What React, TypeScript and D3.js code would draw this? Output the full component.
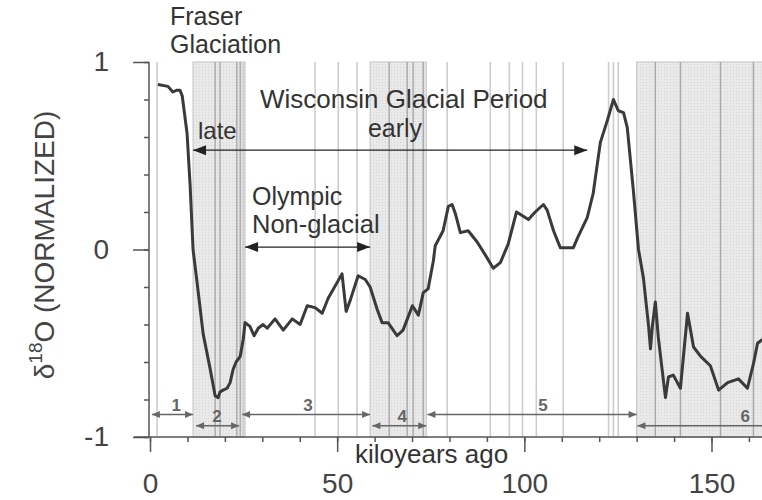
import React, { useEffect, useRef } from 'react';
import * as d3 from 'd3';

// d18O curve: [kiloyears ago, normalized value]
const curveKyr = [
  2.1, 4.8, 6.1, 7.2, 8.0, 8.6, 9.9, 10.7, 11.5, 12.6, 14.2, 16.0, 17.4, 18.2, 18.7, 19.5, 20.6, 21.4, 22.2, 23.0,
  24.1, 24.9, 25.4, 26.7, 27.8, 28.9, 30.2, 31.3, 33.4, 35.6, 38.0, 40.1, 42.0, 44.1, 46.0, 47.6, 51.3, 52.4, 53.5,
  55.6, 57.5, 58.8, 60.7, 62.0, 63.6, 66.0, 67.6, 70.1, 71.7, 73.0, 74.3, 75.7, 76.2, 78.3, 79.7, 80.7, 81.6, 82.9,
  85.0, 87.4, 89.6, 91.7, 93.6, 95.7, 97.9, 99.5, 101.1, 102.9, 105.1, 106.1, 107.8, 109.6, 113.1, 114.4, 116.8,
  118.4, 120.3, 122.2, 123.8, 125.1, 126.5, 127.5, 129.1, 130.5, 131.8, 133.2, 133.7, 134.2, 135.0, 135.8, 137.7,
  138.5, 139.8, 141.7, 143.6, 145.2, 147.1, 149.7, 151.9, 154.3, 157.2, 159.6, 161.2, 162.3, 163.6,
];
const curveValues = [
  0.88, 0.87, 0.84, 0.85, 0.85, 0.82, 0.62, 0.35, 0.0, -0.18, -0.45, -0.63, -0.78, -0.79, -0.76, -0.75, -0.74, -0.71,
  -0.64, -0.6, -0.57, -0.48, -0.39, -0.41, -0.46, -0.42, -0.4, -0.42, -0.37, -0.43, -0.37, -0.4, -0.3, -0.31, -0.34,
  -0.26, -0.13, -0.33, -0.27, -0.14, -0.16, -0.2, -0.32, -0.39, -0.39, -0.46, -0.43, -0.3, -0.35, -0.23, -0.21, -0.06,
  0.02, 0.1, 0.23, 0.24, 0.19, 0.09, 0.1, 0.04, -0.03, -0.1, -0.07, 0.03, 0.2, 0.18, 0.16, 0.2, 0.24, 0.21, 0.1, 0.01,
  0.01, 0.07, 0.17, 0.3, 0.57, 0.69, 0.8, 0.74, 0.73, 0.65, 0.32, 0.0, -0.15, -0.41, -0.53, -0.41, -0.28, -0.47,
  -0.79, -0.68, -0.67, -0.74, -0.34, -0.52, -0.57, -0.62, -0.75, -0.71, -0.69, -0.74, -0.61, -0.5, -0.48,
];

// glacial bands (kyr) and the darker lines inside them
const bandStarts = [11.5, 58.8, 130];
const bandEnds = [25.4, 73.8, 170];
const bandLines = [17.4, 18.7, 23.2, 24.1, 63.9, 68.7, 70.3, 73.0, 135, 141.7, 152.4, 161.2];
// light event lines
const eventLines = [1.9, 24.9, 44.1, 50.3, 55.3, 79.4, 90.9, 96, 99.5, 103.2, 110.4, 122.5, 123.8, 125.1];

// numbered stages along the bottom
const stageNames = ['1', '2', '3', '4', '5', '6'];
const stageFrom = [0.5, 12.3, 24.6, 59.4, 74.1, 130.2];
const stageTo = [11.5, 23.8, 58.8, 73.8, 130, 175];
const stageRow = [0, 1, 0, 1, 0, 1];
const stageLabelAt = [7, 17.9, 42.2, 67.4, 105, 159];

const xTicks = [0, 50, 100, 150];
const yTicks = [-1, 0, 1];

const W = 762;
const H = 500;
const FONT = '"Liberation Sans", Arial, Helvetica, sans-serif';

const App = () => {
  const ref = useRef<SVGSVGElement | null>(null);

  useEffect(() => {
    const svg = d3.select(ref.current);
    svg.selectAll('*').remove();

    const x = d3.scaleLinear().domain([0, 150]).range([150, 711.5]);
    const y = d3.scaleLinear().domain([-1, 1]).range([437, 62]);
    const top = y(1);
    const bottom = y(-1);

    const defs = svg.append('defs');
    const pat = defs.append('pattern')
      .attr('id', 'stipple')
      .attr('width', 3)
      .attr('height', 3)
      .attr('patternUnits', 'userSpaceOnUse');
    pat.append('rect').attr('width', 3).attr('height', 3).attr('fill', '#e9e9e9');
    pat.append('rect').attr('x', 1).attr('y', 1).attr('width', 1).attr('height', 1).attr('fill', '#d6d6d6');

    // bands
    bandStarts.forEach((s, i) => {
      svg.append('rect')
        .attr('x', x(s))
        .attr('y', top)
        .attr('width', x(bandEnds[i]) - x(s))
        .attr('height', bottom - top)
        .attr('fill', 'url(#stipple)')
        .attr('stroke', '#c4c4c4')
        .attr('stroke-width', 1);
    });

    svg.selectAll('line.ev')
      .data(eventLines)
      .enter()
      .append('line')
      .attr('x1', d => x(d))
      .attr('x2', d => x(d))
      .attr('y1', top)
      .attr('y2', bottom)
      .attr('stroke', '#cdcdcd')
      .attr('stroke-width', 1.6);

    svg.selectAll('line.bl')
      .data(bandLines)
      .enter()
      .append('line')
      .attr('x1', d => x(d))
      .attr('x2', d => x(d))
      .attr('y1', top)
      .attr('y2', bottom)
      .attr('stroke', '#a8a8a8')
      .attr('stroke-width', 1.4);

    // axes
    const axisColor = '#555';
    const plain = d => String(d);
    const yMinor = svg.append('g')
      .attr('transform', `translate(${x(0) - 1},0)`)
      .call(d3.axisLeft(y).tickValues(d3.range(-1, 1.01, 0.2)).tickSize(5).tickFormat(() => ''));
    const yMajor = svg.append('g')
      .attr('transform', `translate(${x(0) - 1},0)`)
      .call(d3.axisLeft(y).tickValues(yTicks).tickSize(16).tickPadding(24).tickFormat(plain));
    const xMinor = svg.append('g')
      .attr('transform', `translate(0,${bottom})`)
      .call(d3.axisBottom(x).tickValues(d3.range(0, 170, 10)).tickSize(5).tickFormat(() => ''));
    const xMajor = svg.append('g')
      .attr('transform', `translate(0,${bottom})`)
      .call(d3.axisBottom(x).tickValues(xTicks).tickSize(15).tickPadding(21).tickFormat(plain));
    [yMinor, yMajor, xMinor, xMajor].forEach(g => {
      g.select('.domain').remove();
      g.selectAll('line').attr('stroke', axisColor).attr('stroke-width', 1.5);
      g.selectAll('text')
        .attr('fill', '#444')
        .style('font-family', FONT)
        .style('font-size', '28px');
    });

    svg.append('line')
      .attr('x1', x(0) - 1).attr('x2', x(0) - 1)
      .attr('y1', top).attr('y2', bottom)
      .attr('stroke', axisColor).attr('stroke-width', 1.5);
    svg.append('line')
      .attr('x1', 134).attr('x2', W)
      .attr('y1', bottom).attr('y2', bottom)
      .attr('stroke', axisColor).attr('stroke-width', 1.5);

    // curve
    const pts = curveKyr.map((k, i) => [k, curveValues[i]] as [number, number]);
    svg.append('path')
      .datum(pts)
      .attr('d', d3.line().x(d => x(d[0])).y(d => y(d[1])))
      .attr('fill', 'none')
      .attr('stroke', '#3a3a3a')
      .attr('stroke-width', 3)
      .attr('stroke-linejoin', 'round');

    // arrow helper
    const arrow = (x1, x2, yy, color, len, half, sw) => {
      svg.append('line')
        .attr('x1', x1).attr('x2', x2)
        .attr('y1', yy).attr('y2', yy)
        .attr('stroke', color).attr('stroke-width', sw);
      svg.append('path')
        .attr('d', `M${x1},${yy} L${x1 + len},${yy - half} L${x1 + len},${yy + half} Z`)
        .attr('fill', color);
      svg.append('path')
        .attr('d', `M${x2},${yy} L${x2 - len},${yy - half} L${x2 - len},${yy + half} Z`)
        .attr('fill', color);
    };

    // stage arrows
    const rowY = [y(-0.88), y(-0.94)];
    stageNames.forEach((name, i) => {
      const yy = rowY[stageRow[i]];
      arrow(x(stageFrom[i]), Math.min(x(stageTo[i]), W + 20), yy, '#666', 8, 3.5, 1.6);
      svg.append('text')
        .attr('x', x(stageLabelAt[i]))
        .attr('y', yy - 4)
        .attr('text-anchor', 'middle')
        .attr('fill', '#666')
        .style('font-family', FONT)
        .style('font-size', '17px')
        .style('font-weight', 'bold')
        .text(name);
    });

    // period arrows
    arrow(x(11.5), x(116.8), y(0.53), '#222', 13, 5, 1.2);
    arrow(x(25.4), x(58.8), y(0.013), '#222', 13, 5, 1.2);

    const label = (txt, lx, ly, size, anchor = 'start') => {
      svg.append('text')
        .attr('x', lx)
        .attr('y', ly)
        .attr('text-anchor', anchor)
        .attr('fill', '#333')
        .style('font-family', FONT)
        .style('font-size', `${size}px`)
        .text(txt);
    };
    label('Fraser', 170, 25, 25);
    label('Glaciation', 170, 53, 25);
    label('Wisconsin Glacial Period', 260, 108, 26);
    label('early', 395, 137, 25, 'middle');
    label('late', 198, 139, 24);
    label('Olympic', 252, 205, 25);
    label('Non-glacial', 252, 233, 25.5);
    label('kiloyears ago', 355, 463, 26);

    // y title
    const yt = svg.append('text')
      .attr('transform', 'translate(54,245) rotate(-90)')
      .attr('text-anchor', 'middle')
      .attr('fill', '#444')
      .style('font-family', FONT)
      .style('font-size', '28px');
    yt.append('tspan').text('δ');
    yt.append('tspan').attr('dy', -12).style('font-size', '19px').text('18');
    yt.append('tspan').attr('dy', 12).text('O (NORMALIZED)');
  }, []);

  return (
    <svg
      ref={ref}
      width={W}
      height={H}
      style={{ position: 'absolute', left: 0, top: 0, background: '#fff' }}
    />
  );
};

export default App;
